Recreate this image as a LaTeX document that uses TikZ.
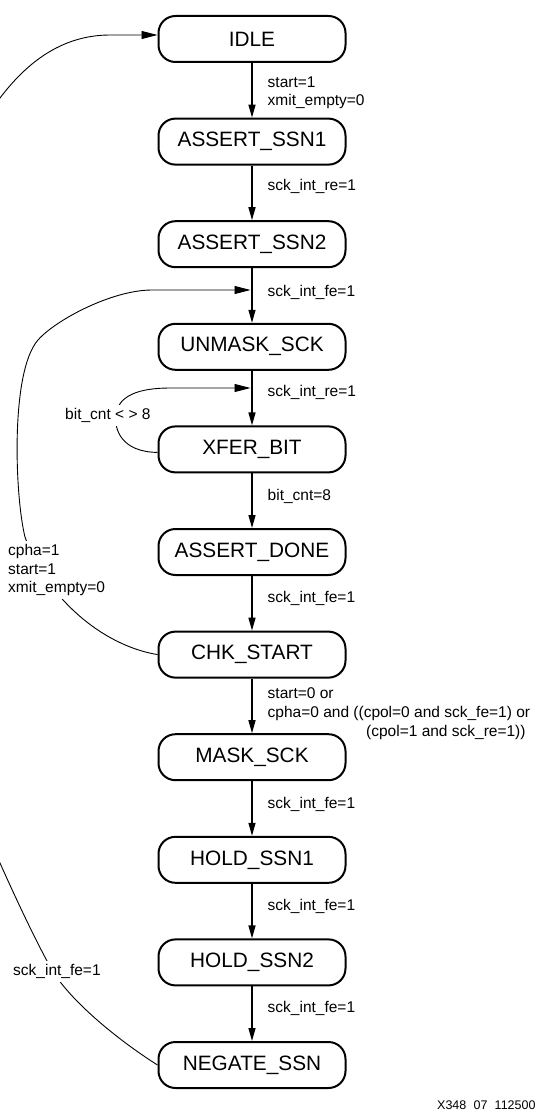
\documentclass[tikz,border=0pt]{standalone}
\usepackage{fontspec}
\setmainfont{Liberation Sans}
\usetikzlibrary{arrows.meta}
\begin{document}
\begin{tikzpicture}[x=1pt,y=-1pt,
  state/.style={draw, line width=2pt, rounded corners=17pt, minimum width=187pt, minimum height=46pt, inner sep=0pt, font=\fontsize{20.8}{24}\selectfont},
  arr/.style={line width=1.4pt, -{Triangle[length=13pt,width=7pt]}},
  back/.style={line width=0.9pt, -{Triangle[length=16pt,width=8pt]}},
  lab/.style={inner sep=0pt, anchor=base west, font=\fontsize{15.5}{18.3}\selectfont},
  llab/.style={fill=white, inner sep=3pt, font=\fontsize{15.5}{18.3}\selectfont, align=left}]
\useasboundingbox (0,0) rectangle (540,1113);
\clip (0,0) rectangle (540,1113);

% states
\node[state] (idle)   at (252,39)     {IDLE};
\node[state] (ssn1)   at (252,141.6)  {ASSERT\_SSN1};
\node[state] (ssn2)   at (252,244.2)  {ASSERT\_SSN2};
\node[state] (unmask) at (252,346.8)  {UNMASK\_SCK};
\node[state] (xfer)   at (252,449.4)  {XFER\_BIT};
\node[state] (done)   at (252,552)    {ASSERT\_DONE};
\node[state] (chk)    at (252,654.6)  {CHK\_START};
\node[state] (mask)   at (252,757.2)  {MASK\_SCK};
\node[state] (hold1)  at (252,859.8)  {HOLD\_SSN1};
\node[state] (hold2)  at (252,962.4)  {HOLD\_SSN2};
\node[state] (negate) at (252,1065)   {NEGATE\_SSN};

% vertical transitions
\draw[arr] (idle) -- (ssn1);
\draw[arr] (ssn1) -- (ssn2);
\draw[arr] (ssn2) -- (unmask);
\draw[arr] (unmask) -- (xfer);
\draw[arr] (xfer) -- (done);
\draw[arr] (done) -- (chk);
\draw[arr] (chk) -- (mask);
\draw[arr] (mask) -- (hold1);
\draw[arr] (hold1) -- (hold2);
\draw[arr] (hold2) -- (negate);

% junction points on vertical lines
\coordinate (j1) at (252,290);
\coordinate (j2) at (252,388);
\coordinate (idleIn) at ([yshift=4pt]idle.west);
\coordinate (xferOut) at ([yshift=-3pt]xfer.west);

% back edges
\draw[back, shorten >=1.5pt] (chk.west) .. controls (100,645) and (45,595) .. (25,537)
  .. controls (15,497) and (10,372) .. (38,340)
  .. controls (55.5,320) and (112,290) .. (152,290) -- (j1);
\draw[back, shorten >=1.5pt] (xferOut) .. controls (122,452) and (114,430) .. (116,415)
  .. controls (118,395) and (140,388) .. (170,388) -- (j2);
\draw[back] (negate.west) .. controls (115,1038) and (70,1000) .. (52,970)
  .. controls (35,940) and (12,890) .. (0,863)
  .. controls (-30,800) and (-50,160) .. (0,98)
  .. controls (25,65) and (60,35) .. (110,35) -- (idleIn);

% right labels
\node[lab] (t1a) at (267.5,87.5)  {start=1};
\node[lab] (t1b) at (267.5,105.5) {xmit\_empty=0};
\node[lab] (t2)  at (267.5,190.5) {sck\_int\_re=1};
\node[lab] (t3)  at (267.5,296.5) {sck\_int\_fe=1};
\node[lab] (t4)  at (267.5,396.5) {sck\_int\_re=1};
\node[lab] (t5)  at (267.5,500.5) {bit\_cnt=8};
\node[lab] (t6)  at (267.5,602.5) {sck\_int\_fe=1};
\node[lab] (t7a) at (267.5,698.5) {start=0 or};
\node[lab] (t7b) at (267.5,717.5) {cpha=0 and ((cpol=0 and sck\_fe=1) or};
\node[lab] (t7c) at (366,736.5)   {(cpol=1 and sck\_re=1))};
\node[lab] (t8)  at (267.5,808.5) {sck\_int\_fe=1};
\node[lab] (t9)  at (267.5,910.5) {sck\_int\_fe=1};
\node[lab] (t10) at (267.5,1012.5) {sck\_int\_fe=1};

% left labels
\node[llab, anchor=west] (c1) at (5,570) {cpha=1\\start=1\\xmit\_empty=0};
\node[llab, anchor=base west] (c2) at (62,419.5) {bit\_cnt < > 8};
\node[llab, anchor=base west] (c3) at (10,975.5) {sck\_int\_fe=1};

% figure id
\node[inner sep=0pt, anchor=base west, font=\fontsize{12.5}{15}\selectfont] (fig) at (437,1109.5) {X348\hspace{0.3em} 07\hspace{0.3em} 112500};
\end{tikzpicture}
\end{document}
